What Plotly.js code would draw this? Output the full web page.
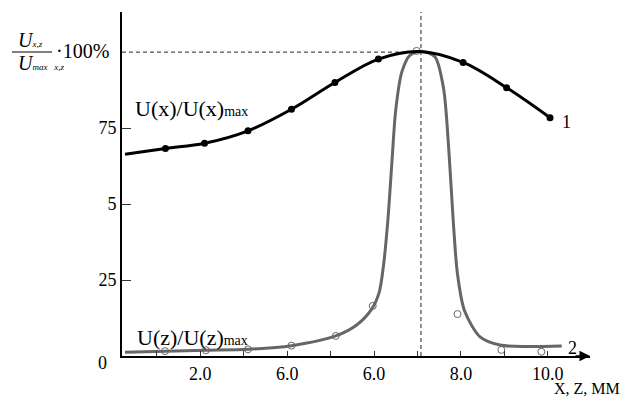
<!DOCTYPE html>
<html>
<head>
<meta charset="utf-8">
<script src="https://cdn.plot.ly/plotly-3.0.1.min.js"></script>
<style>html,body{margin:0;padding:0;background:#fff;}#chart{width:627px;height:400px;}</style>
</head>
<body>
<div id="chart"></div>
<script>
// ---- data ----
// curve 1: U(x)/U(x)max  (smooth fitted line)
const curve1X = [0.27, 1.2, 2.1, 3.1, 4.1, 5.1, 6.1, 7.05, 8.05, 9.05, 10.05];
const curve1Y = [66.4, 68.3, 70.0, 74.1, 81.2, 90.0, 97.7, 100.2, 96.6, 88.3, 78.4];
// curve 1 measured points (filled)
const points1X = [1.2, 2.1, 3.1, 4.1, 5.1, 6.1, 8.05, 9.05, 10.05];
const points1Y = [68.3, 70.0, 74.1, 81.2, 90.0, 97.7, 96.6, 88.3, 78.4];
// curve 2: U(z)/U(z)max (smooth fitted line)
const curve2X = [0.27, 1.19, 2.13, 3.1, 4.1, 5.12, 5.6, 5.95, 6.12, 6.22, 6.32, 6.41, 6.5, 6.64, 6.83, 7.08, 7.4, 7.6, 7.72, 7.82, 7.92, 8.08, 8.44, 8.9, 9.51, 10.32];
const curve2Y = [1.2, 1.6, 1.9, 2.2, 3.4, 6.6, 10.2, 15.5, 21, 30, 45, 63.5, 81, 93.5, 99, 100.3, 98.5, 88, 68, 45, 27, 15, 6.3, 3.6, 3.1, 3.3];
// curve 2 measured points (open)
const points2X = [1.19, 2.13, 3.1, 4.1, 5.12, 5.97, 6.98, 7.92, 8.93, 9.85];
const points2Y = [1.6, 1.9, 2.2, 3.4, 6.6, 16.5, 100.4, 13.8, 2.0, 1.4];
// axis ticks
const xTickVals = [1, 2, 3, 4, 5, 6, 7, 8, 9, 10];
const xTickText = ['', '2.0', '', '6.0', '', '6.0', '', '8.0', '', '10.0'];
const yTickVals = [25, 50, 75];
const yTickText = ['25', '5', '75'];
const peakX = 7.08;
const peakY = 100;

// ---- layout helpers ----
const W = 627, H = 400;
const M = {l: 122, r: 37, t: 12, b: 44};
const PW = W - M.l - M.r, PH = H - M.t - M.b;
const px = x => (x - M.l) / PW;
const py = y => (H - M.b - y) / PH;
const FONT = 'Liberation Serif, Times New Roman, serif';
const GRAY = '#666666';

const traces = [
  {x: curve2X, y: curve2Y, mode: 'lines', line: {color: GRAY, width: 3, shape: 'spline', smoothing: 0.8}, hoverinfo: 'skip'},
  {x: points2X, y: points2Y, mode: 'markers', marker: {symbol: 'circle-open', size: 7, color: GRAY, line: {width: 1, color: GRAY}}},
  {x: curve1X, y: curve1Y, mode: 'lines', line: {color: '#000', width: 3, shape: 'spline', smoothing: 1}},
  {x: points1X, y: points1Y, mode: 'markers', marker: {symbol: 'circle', size: 7, color: '#000'}}
];

const ann = (x, y, text, size, opts) => Object.assign({
  xref: 'paper', yref: 'paper', x: px(x), y: py(y), text: text, showarrow: false,
  font: {family: FONT, size: size, color: '#000'}, xanchor: 'left', yanchor: 'middle'
}, opts || {});

const SUB = t => '<span style="font-size:9px;font-style:italic">' + t + '</span>';

const layout = {
  width: W, height: H,
  margin: M,
  paper_bgcolor: '#fff', plot_bgcolor: '#fff',
  showlegend: false,
  font: {family: FONT, color: '#000', size: 18},
  xaxis: {
    range: [0.2, 10.97], showgrid: false, zeroline: false,
    showline: true, linecolor: '#000', linewidth: 2,
    tickvals: xTickVals, ticktext: xTickText, ticks: 'inside', ticklen: 5, tickwidth: 1, tickcolor: '#333',
    tickfont: {family: FONT, size: 18}
  },
  yaxis: {
    range: [0, 113.2], showgrid: false, zeroline: false,
    showline: true, linecolor: '#000', linewidth: 2,
    tickvals: yTickVals, ticktext: yTickText, ticks: 'inside', ticklen: 9, tickwidth: 1, tickcolor: '#333',
    tickfont: {family: FONT, size: 18}
  },
  shapes: [
    {type: 'line', xref: 'x', yref: 'y', x0: 0.2, x1: peakX, y0: peakY, y1: peakY, line: {color: '#222', width: 1, dash: '4px,3px'}, layer: 'below'},
    {type: 'line', xref: 'x', yref: 'paper', x0: peakX, x1: peakX, y0: 0, y1: 1, line: {color: '#222', width: 1, dash: '4px,3px'}, layer: 'below'},
    {type: 'line', xref: 'paper', yref: 'paper', x0: px(12), x1: px(52), y0: py(52), y1: py(52), line: {color: '#000', width: 1}}
  ],
  annotations: [
    ann(16, 40, '<i>U</i>' + SUB('x,z'), 20),
    ann(16, 63, '<i>U</i>' + SUB('max&nbsp;&nbsp;&nbsp;x,z'), 20),
    ann(54, 51, '·100%', 20),
    ann(96, 363, '0', 18),
    ann(133, 109, 'U(x)/U(x)<span style="font-size:14px">max</span>', 22),
    ann(135, 337, 'U(z)/U(z)<span style="font-size:14px">max</span>', 22),
    ann(560, 122, '1', 18),
    ann(566, 348, '2', 18),
    ann(622, 388, 'X, Z, MM', 16, {xanchor: 'right'}),
    {xref: 'x', yref: 'y', x: 10.97, y: 0, ax: -16, ay: 0, text: '', showarrow: true, arrowhead: 2, arrowsize: 1.4, arrowwidth: 1.5, arrowcolor: '#000', standoff: 0}
  ]
};

Plotly.newPlot('chart', traces, layout, {displayModeBar: false, staticPlot: true});
</script>
</body>
</html>
